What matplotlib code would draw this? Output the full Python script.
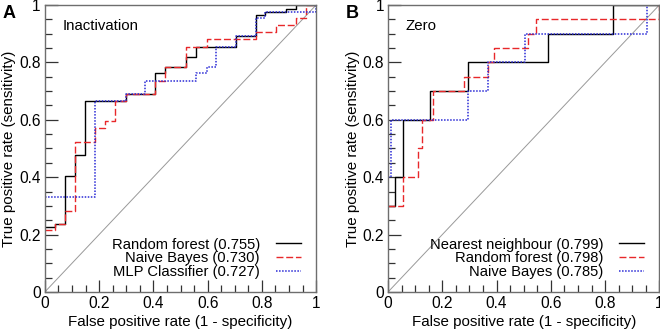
import numpy as np
import matplotlib.pyplot as plt
from matplotlib.ticker import MultipleLocator

plt.rcParams['font.family'] = ['Liberation Sans', 'DejaVu Sans']

# ROC corner points (start of each horizontal run)
# panel A - Inactivation
a_rf_fpr = [0.0, 0.037, 0.074, 0.111, 0.149, 0.298, 0.407, 0.444, 0.520, 0.557, 0.705, 0.779, 0.812, 0.889, 0.926, 1.0]
a_rf_tpr = [0.225, 0.237, 0.404, 0.476, 0.667, 0.689, 0.762, 0.785, 0.820, 0.855, 0.892, 0.964, 0.976, 0.987, 1.0, 1.0]
a_nb_fpr = [0.0, 0.037, 0.074, 0.111, 0.186, 0.223, 0.260, 0.298, 0.407, 0.444, 0.520, 0.596, 0.779, 0.852, 0.926, 0.963, 1.0]
a_nb_tpr = [0.216, 0.237, 0.283, 0.523, 0.571, 0.596, 0.667, 0.689, 0.736, 0.785, 0.855, 0.880, 0.905, 0.929, 0.953, 1.0, 1.0]
a_mlp_fpr = [0.0, 0.186, 0.298, 0.370, 0.557, 0.596, 0.632, 0.705, 0.779, 0.812, 1.0]
a_mlp_tpr = [0.332, 0.667, 0.689, 0.736, 0.762, 0.785, 0.855, 0.892, 0.953, 0.976, 1.0]

# panel B - Zero
b_nn_fpr = [0.0, 0.027, 0.055, 0.154, 0.296, 0.590, 0.830, 1.0]
b_nn_tpr = [0.30, 0.40, 0.60, 0.70, 0.80, 0.90, 1.0, 1.0]
b_rf_fpr = [0.0, 0.055, 0.111, 0.125, 0.166, 0.280, 0.367, 0.392, 0.517, 0.547, 1.0]
b_rf_tpr = [0.30, 0.40, 0.50, 0.60, 0.70, 0.75, 0.80, 0.85, 0.90, 0.95, 1.0]
b_nb_fpr = [0.0, 0.012, 0.296, 0.367, 0.504, 0.956, 1.0]
b_nb_tpr = [0.40, 0.60, 0.70, 0.80, 0.90, 1.0, 1.0]

a_labels = ["Random forest (0.755)", "Naive Bayes (0.730)", "MLP Classifier (0.727)"]
b_labels = ["Nearest neighbour (0.799)", "Random forest (0.798)", "Naive Bayes (0.785)"]

styles = [dict(color="black", ls="-", lw=1.0),
          dict(color="#e8282a", ls=(0, (5, 2)), lw=1.0),
          dict(color="#2b2bd6", ls=(0, (1, 1)), lw=1.1)]

fig = plt.figure(figsize=(6.6, 3.31), dpi=100)
axA = fig.add_axes([0.068, 0.118, 0.411, 0.867])
axB = fig.add_axes([0.588, 0.118, 0.411, 0.867])


def draw_panel(ax, curves, labels, title):
    ax.plot([0, 1], [0, 1], color="#999999", lw=0.7, zorder=1)
    for (fx, ty), lab, st in zip(curves, labels, styles):
        ax.plot(fx, ty, drawstyle="steps-post", label=lab, zorder=2, **st)
    ax.set_xlim(0, 1)
    ax.set_ylim(0, 1)
    for s in ax.spines.values():
        s.set_color("#6e6e6e")
        s.set_linewidth(1.0)
    ax.xaxis.set_major_locator(MultipleLocator(0.2))
    ax.xaxis.set_minor_locator(MultipleLocator(0.05))
    ax.yaxis.set_major_locator(MultipleLocator(0.2))
    ax.yaxis.set_minor_locator(MultipleLocator(0.05))
    fmt = lambda v, p: f"{v:g}"
    ax.xaxis.set_major_formatter(fmt)
    ax.yaxis.set_major_formatter(fmt)
    ax.tick_params(which="both", direction="in", top=False, right=False,
                   colors="#333333", labelcolor="black", labelsize=11.2, width=0.9)
    ax.tick_params(which="major", length=9, pad=3)
    ax.tick_params(which="minor", length=5)
    ax.set_xlabel("False positive rate (1 - specificity)", fontsize=10.9, labelpad=3)
    ax.set_ylabel("True positive rate (sensitivity)", fontsize=10.9, labelpad=2)
    ax.text(0.065, 0.928, title, transform=ax.transAxes, fontsize=10.8,
            va="center", ha="left")
    ax.legend(loc="lower right", bbox_to_anchor=(0.945, 0.045), frameon=False,
              markerfirst=False, fontsize=10.6, handlelength=1.7, handletextpad=1.1,
              labelspacing=-0.02, borderpad=0, borderaxespad=0)


draw_panel(axA, [(a_rf_fpr, a_rf_tpr), (a_nb_fpr, a_nb_tpr), (a_mlp_fpr, a_mlp_tpr)],
           a_labels, "Inactivation")
draw_panel(axB, [(b_nn_fpr, b_nn_tpr), (b_rf_fpr, b_rf_tpr), (b_nb_fpr, b_nb_tpr)],
           b_labels, "Zero")

fig.text(0.004, 0.958, "A", fontsize=13, fontweight="bold", va="center")
fig.text(0.524, 0.958, "B", fontsize=13, fontweight="bold", va="center")

fig.savefig("out.png", dpi=100)
